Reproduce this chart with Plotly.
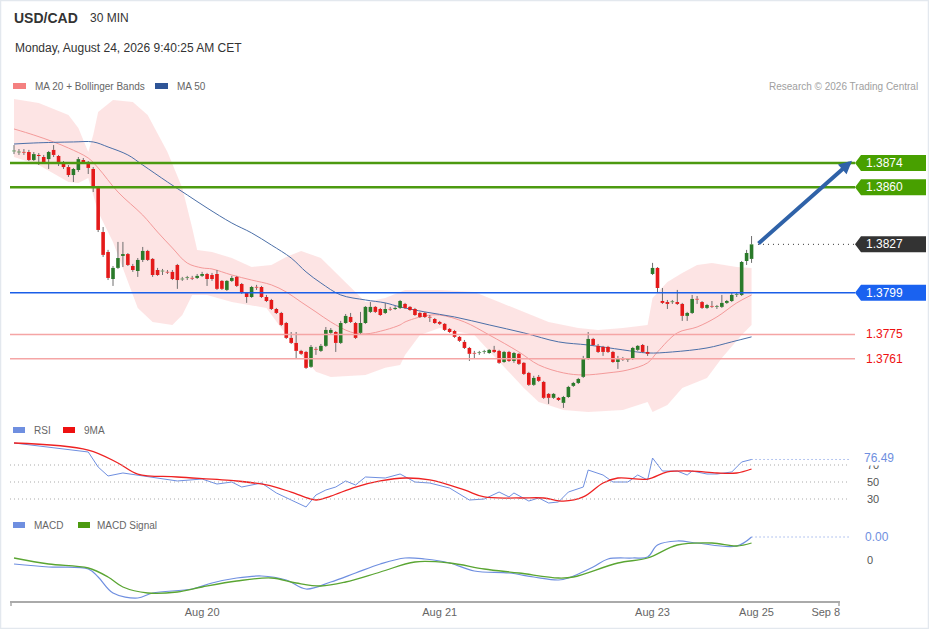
import plotly.graph_objects as go

# ---------------- data ----------------
opens = [1.38809,1.38803,1.38803,1.38803,1.38757,1.38786,1.38774,1.38762,1.38815,1.38780,
         1.38739,1.38716,1.38670,1.38699,1.38757,1.38739,1.38705,1.38595,1.38341,1.38226,
         1.38070,1.38134,1.38203,1.38214,1.38145,1.38116,1.38180,1.38232,1.38186,1.38122,
         1.38116,1.38111,1.38111,1.38151,1.38070,1.38076,1.38076,1.38076,1.38088,1.38099,
         1.38093,1.38099,1.38059,1.38007,1.38059,1.38082,1.38041,1.37990,1.37966,1.38024,
         1.38024,1.37966,1.37949,1.37897,1.37874,1.37816,1.37730,1.37701,1.37655,1.37649,
         1.37563,1.37666,1.37655,1.37684,1.37759,1.37764,1.37701,1.37816,1.37851,1.37816,
         1.37759,1.37816,1.37880,1.37909,1.37897,1.37874,1.37897,1.37897,1.37903,1.37926,
         1.37909,1.37897,1.37874,1.37874,1.37851,1.37839,1.37822,1.37811,1.37782,1.37770,
         1.37736,1.37707,1.37672,1.37643,1.37643,1.37649,1.37643,1.37661,1.37655,1.37591,
         1.37649,1.37597,1.37638,1.37586,1.37528,1.37459,1.37505,1.37476,1.37407,1.37384,
         1.37384,1.37355,1.37389,1.37453,1.37470,1.37505,1.37609,1.37724,1.37684,1.37678,
         1.37678,1.37649,1.37591,1.37609,1.37603,1.37609,1.37661,1.37689,1.37649,1.38099,
         1.38134,1.37943,1.37937,1.37937,1.37937,1.37926,1.37857,1.37874,1.37955,1.37937,
         1.37903,1.37914,1.37909,1.37909,1.37932,1.37943,1.37978,1.37978,1.38174,1.38186]
highs = [1.38843,1.38820,1.38820,1.38815,1.38803,1.38797,1.38786,1.38809,1.38843,1.38786,
         1.38751,1.38728,1.38711,1.38774,1.38768,1.38751,1.38716,1.38607,1.38370,1.38238,
         1.38145,1.38284,1.38284,1.38220,1.38157,1.38191,1.38255,1.38238,1.38191,1.38134,
         1.38128,1.38122,1.38122,1.38157,1.38082,1.38088,1.38088,1.38099,1.38111,1.38105,
         1.38105,1.38122,1.38064,1.38064,1.38088,1.38088,1.38047,1.37995,1.38030,1.38036,
         1.38030,1.37978,1.37955,1.37903,1.37880,1.37822,1.37764,1.37764,1.37661,1.37655,
         1.37689,1.37678,1.37695,1.37793,1.37787,1.37770,1.37828,1.37868,1.37874,1.37822,
         1.37880,1.37914,1.37937,1.37914,1.37903,1.37932,1.37909,1.37914,1.37949,1.37932,
         1.37914,1.37903,1.37880,1.37880,1.37862,1.37845,1.37828,1.37816,1.37787,1.37776,
         1.37741,1.37718,1.37678,1.37655,1.37655,1.37661,1.37666,1.37684,1.37661,1.37655,
         1.37655,1.37649,1.37643,1.37591,1.37534,1.37511,1.37516,1.37482,1.37412,1.37412,
         1.37389,1.37395,1.37453,1.37476,1.37499,1.37626,1.37764,1.37730,1.37695,1.37684,
         1.37684,1.37655,1.37626,1.37620,1.37614,1.37678,1.37689,1.37695,1.37684,1.38163,
         1.38139,1.38018,1.37949,1.37949,1.38007,1.37932,1.37880,1.37978,1.37972,1.37943,
         1.37926,1.37943,1.37920,1.37978,1.37949,1.37995,1.37990,1.38174,1.38238,1.38318]
lows = [1.38791,1.38786,1.38786,1.38751,1.38751,1.38728,1.38739,1.38705,1.38774,1.38722,
        1.38705,1.38659,1.38630,1.38688,1.38734,1.38676,1.38572,1.38341,1.38197,1.38064,
        1.38030,1.38128,1.38139,1.38145,1.38111,1.38082,1.38168,1.38174,1.38082,1.38088,
        1.38093,1.38099,1.38064,1.38013,1.38059,1.38064,1.38064,1.38070,1.38082,1.38030,
        1.38059,1.38007,1.38007,1.38001,1.38053,1.38024,1.37984,1.37932,1.37961,1.38007,
        1.37961,1.37937,1.37891,1.37868,1.37799,1.37724,1.37695,1.37614,1.37632,1.37551,
        1.37557,1.37632,1.37649,1.37678,1.37753,1.37649,1.37695,1.37811,1.37816,1.37724,
        1.37753,1.37811,1.37874,1.37874,1.37857,1.37868,1.37886,1.37891,1.37897,1.37897,
        1.37886,1.37857,1.37845,1.37845,1.37822,1.37811,1.37805,1.37770,1.37759,1.37730,
        1.37707,1.37666,1.37597,1.37609,1.37632,1.37638,1.37638,1.37643,1.37580,1.37586,
        1.37591,1.37586,1.37574,1.37516,1.37453,1.37453,1.37476,1.37378,1.37349,1.37378,
        1.37366,1.37326,1.37384,1.37447,1.37464,1.37499,1.37603,1.37684,1.37643,1.37626,
        1.37643,1.37586,1.37551,1.37597,1.37591,1.37603,1.37655,1.37643,1.37626,1.38093,
        1.37990,1.37926,1.37897,1.37926,1.37920,1.37828,1.37828,1.37868,1.37926,1.37897,
        1.37897,1.37903,1.37897,1.37903,1.37926,1.37937,1.37966,1.37972,1.38151,1.38163]
closes = [1.38809,1.38803,1.38800,1.38757,1.38791,1.38780,1.38745,1.38803,1.38786,1.38734,
          1.38716,1.38670,1.38705,1.38762,1.38745,1.38711,1.38601,1.38353,1.38209,1.38076,
          1.38134,1.38191,1.38214,1.38151,1.38122,1.38180,1.38232,1.38180,1.38093,1.38093,
          1.38116,1.38108,1.38070,1.38064,1.38070,1.38079,1.38073,1.38088,1.38099,1.38070,
          1.38070,1.38013,1.38013,1.38059,1.38076,1.38030,1.37990,1.37966,1.38024,1.38021,
          1.37966,1.37943,1.37897,1.37874,1.37805,1.37730,1.37701,1.37655,1.37638,1.37557,
          1.37678,1.37663,1.37684,1.37776,1.37776,1.37701,1.37816,1.37857,1.37822,1.37730,
          1.37816,1.37909,1.37909,1.37880,1.37862,1.37897,1.37894,1.37903,1.37943,1.37903,
          1.37891,1.37862,1.37851,1.37851,1.37848,1.37816,1.37811,1.37776,1.37764,1.37736,
          1.37713,1.37672,1.37638,1.37640,1.37646,1.37652,1.37661,1.37649,1.37586,1.37649,
          1.37597,1.37643,1.37580,1.37522,1.37459,1.37499,1.37482,1.37384,1.37384,1.37407,
          1.37372,1.37389,1.37447,1.37470,1.37493,1.37614,1.37724,1.37689,1.37649,1.37649,
          1.37649,1.37591,1.37614,1.37606,1.37606,1.37672,1.37684,1.37649,1.37638,1.38134,
          1.38018,1.37932,1.37926,1.37940,1.37926,1.37857,1.37874,1.37955,1.37952,1.37903,
          1.37920,1.37911,1.37912,1.37932,1.37943,1.37978,1.37981,1.38168,1.38220,1.38270]

bb_up_idx = [0,5,11,13,15,16,17,20,24,27,31,34,36,37,40,44,48,52,55,58,62,64,68,71,75,78,79,86,93,98,
             103,108,114,118,123,128,129,132,135,138,141,146,149]
bb_up = [1.39109,1.39086,1.39016,1.38941,1.38803,1.38901,1.39034,1.39103,1.39091,1.39016,
         1.38803,1.38595,1.38364,1.38238,1.38226,1.38191,1.38139,1.38151,1.38197,1.38232,
         1.38191,1.38134,1.38018,1.37937,1.37960,1.37995,1.38007,1.38007,1.37995,1.37937,
         1.37880,1.37822,1.37787,1.37776,1.37787,1.37805,1.37961,1.38053,1.38105,1.38151,
         1.38162,1.38139,1.38134]
bb_lo_idx = [0,5,11,13,15,17,20,23,25,28,32,34,36,39,44,51,54,58,61,64,71,75,78,79,82,86,93,98,
             103,106,111,116,123,128,129,132,135,140,143,147,149]
bb_lo = [1.38774,1.38728,1.38630,1.38624,1.38653,1.38457,1.38284,1.38053,1.37903,1.37822,
         1.37805,1.37862,1.37978,1.37978,1.37937,1.37903,1.37787,1.37632,1.37534,1.37505,
         1.37516,1.37557,1.37574,1.37632,1.37747,1.37787,1.37747,1.37591,1.37441,1.37360,
         1.37314,1.37303,1.37314,1.37360,1.37303,1.37343,1.37441,1.37499,1.37614,1.37747,
         1.37805]
ma20_idx = [0,4,8,11,15,17,21,26,29,32,35,38,40,44,48,52,55,58,61,64,68,71,75,78,79,83,86,91,96,
            102,106,111,115,120,124,128,130,134,138,142,146,149]
ma20 = [1.38936,1.38901,1.38861,1.38826,1.38768,1.38711,1.38572,1.38439,1.38341,1.38249,
        1.38162,1.38134,1.38128,1.38093,1.38064,1.38036,1.37995,1.37937,1.37880,1.37822,
        1.37764,1.37753,1.37776,1.37805,1.37822,1.37857,1.37862,1.37822,1.37747,1.37649,
        1.37574,1.37528,1.37516,1.37528,1.37545,1.37586,1.37649,1.37759,1.37793,1.37851,
        1.37932,1.37978]
ma50_idx = [0,4,12,16,19,23,26,31,35,39,44,48,52,56,59,62,66,71,75,78,83,89,96,103,110,116,123,
            128,133,140,145,149]
ma50 = [1.38849,1.38855,1.38861,1.38861,1.38832,1.38786,1.38728,1.38630,1.38555,1.38480,
        1.38393,1.38336,1.38266,1.38191,1.38111,1.38047,1.37978,1.37949,1.37932,1.37909,
        1.37880,1.37851,1.37805,1.37759,1.37707,1.37689,1.37661,1.37643,1.37649,1.37672,
        1.37707,1.37736]

rsi_idx = [0,9,15,17,19,22,26,28,33,38,41,44,46,50,53,56,59,61,63,65,67,69,71,75,78,81,84,88,92,95,
           98,100,101,104,106,108,110,112,115,116,119,121,124,126,128,129,131,134,136,137,140,142,
           145,147,149]
rsi = [95.9,90.0,85.3,67.6,57.1,60.6,57.1,54.7,51.2,53.5,47.6,50.0,44.1,48.8,37.1,28.8,20.6,34.7,
       40.6,44.1,51.2,46.5,55.9,54.7,59.4,50.0,48.8,42.9,28.8,30.0,38.2,32.4,37.1,27.6,31.2,25.3,
       26.5,38.2,44.1,64.1,58.2,50.0,50.0,58.2,52.4,78.2,62.9,62.9,58.2,62.9,59.4,59.4,61.8,73.5,
       76.49]
rsi_ma_idx = [0,15,21,25,33,45,51,56,61,64,69,74,79,84,91,95,102,107,111,115,119,122,128,132,137,
              142,146,149]
rsi_ma = [95.9,87.6,72.4,59.4,55.9,51.2,46.5,38.2,28.8,33.5,44.1,51.2,54.7,52.4,40.6,32.4,31.2,
          31.2,27.6,32.4,48.8,54.7,53.5,61.8,62.9,60.6,60.6,65.3]

macd_idx = [0,7,15,17,20,25,28,36,40,45,50,55,59,64,69,74,79,83,88,93,100,105,110,112,117,120,125,
            128,130,134,138,146,149]
macd = [-0.00008,-0.00014,-0.00018,-0.00034,-0.00066,-0.00076,-0.00066,-0.00058,-0.00046,-0.00036,
        -0.00032,-0.00040,-0.00058,-0.00044,-0.00026,-0.00008,0.00004,0.00002,-0.00006,-0.00022,
        -0.00026,-0.00034,-0.00040,-0.00036,-0.00014,0.00002,0.00004,0.00006,0.00030,0.00038,
        0.00034,0.00028,0.00046]
sig_idx = [0,7,15,19,22,27,33,38,45,52,57,62,67,74,81,88,95,102,110,113,122,128,134,141,146,149]
sig = [0.00004,-0.00008,-0.00016,-0.00034,-0.00054,-0.00066,-0.00064,-0.00054,-0.00042,-0.00036,
       -0.00046,-0.00052,-0.00044,-0.00024,-0.00004,-0.00006,-0.00018,-0.00026,-0.00036,-0.00034,
       -0.00006,0.00004,0.00030,0.00034,0.00028,0.00034]

tick_vals = [38, 86, 129, 150, 164]
tick_text = ["Aug 20", "Aug 21", "Aug 23", "Aug 25", "Sep 8"]

res2, res1 = 1.3874, 1.3860
last_price = 1.3827
pivot = 1.3799
sup1, sup2 = 1.3775, 1.3761
rsi_levels = [70, 50, 30]
rsi_last = 76.49

# ---------------- layout helpers ----------------
W, H = 929, 629
PL, PR, PT, PB = 10, 840, 95, 601
XR = [-0.81, 166.87]
FONT = "Liberation Sans, Arial, sans-serif"


def px(x):
    return (x - PL) / (PR - PL)


def py(y):
    return (PB - y) / (PB - PT)


def xi(i):
    return (i - XR[0]) / (XR[1] - XR[0])


n = len(closes)
idx = list(range(n))
GREEN, RED = "#2a7a2a", "#e41a1a"

fig = go.Figure()

# Bollinger band
fig.add_trace(go.Scatter(x=bb_up_idx, y=bb_up, mode="lines", line=dict(width=0, color="rgba(0,0,0,0)"),
                         hoverinfo="skip"))
fig.add_trace(go.Scatter(x=bb_lo_idx, y=bb_lo, mode="lines", line=dict(width=0, color="rgba(0,0,0,0)"),
                         fill="tonexty", fillcolor="rgba(252,206,206,0.55)", hoverinfo="skip"))
fig.add_trace(go.Scatter(x=ma20_idx, y=ma20, mode="lines", line=dict(color="#f49a9a", width=1, shape="spline"),
                         hoverinfo="skip"))
fig.add_trace(go.Scatter(x=ma50_idx, y=ma50, mode="lines", line=dict(color="#4b6fa8", width=1, shape="spline"),
                         hoverinfo="skip"))

# candles: wicks + bodies
wx, wy = [], []
bodies = {GREEN: ([], []), RED: ([], [])}
for i in idx:
    o, c = opens[i], closes[i]
    lo_b, hi_b = min(o, c), max(o, c)
    if hi_b - lo_b < 0.00004:
        m = (o + c) / 2
        lo_b, hi_b = m - 0.00002, m + 0.00002
    wx += [i, i, None, i, i, None]
    wy += [highs[i], hi_b, None, lo_b, lows[i], None]
    col = GREEN if c >= o else RED
    bodies[col][0].extend([i, i, None])
    bodies[col][1].extend([lo_b, hi_b, None])
fig.add_trace(go.Scatter(x=wx, y=wy, mode="lines", line=dict(color="#6e6e6e", width=1), hoverinfo="skip"))
for col, (bx, by) in bodies.items():
    fig.add_trace(go.Scatter(x=bx, y=by, mode="lines", line=dict(color=col, width=3.6), hoverinfo="skip"))

# RSI
fig.add_trace(go.Scatter(x=rsi_idx, y=rsi, yaxis="y2", mode="lines", line=dict(color="#6f8fe0", width=1),
                         hoverinfo="skip"))
fig.add_trace(go.Scatter(x=rsi_ma_idx, y=rsi_ma, yaxis="y2", mode="lines",
                         line=dict(color="#ee2222", width=1.3, shape="spline"), hoverinfo="skip"))
# MACD
fig.add_trace(go.Scatter(x=macd_idx, y=macd, yaxis="y3", mode="lines",
                         line=dict(color="#6f8fe0", width=1.2, shape="spline"), hoverinfo="skip"))
fig.add_trace(go.Scatter(x=sig_idx, y=sig, yaxis="y3", mode="lines",
                         line=dict(color="#5aa532", width=1.3, shape="spline"), hoverinfo="skip"))

shapes, ann = [], []

def hline(v, color, width, yref="y", dash="solid", x0=0, x1=None):
    shapes.append(dict(type="line", xref="paper", yref=yref, x0=x0, x1=px(855) if x1 is None else x1,
                       y0=v, y1=v, line=dict(color=color, width=width, dash=dash)))

def tag(v, color, text):
    h = 0.000462
    a, b, r = px(855), px(861), px(926)
    shapes.append(dict(type="path", xref="paper", yref="y",
                       path=f"M {a},{v} L {b},{v+h} L {r},{v+h} L {r},{v-h} L {b},{v-h} Z",
                       fillcolor=color, line=dict(width=0)))
    ann.append(dict(xref="paper", yref="y", x=px(864), y=v, text=text, showarrow=False, xanchor="left",
                    yanchor="middle", font=dict(color="white", size=12, family=FONT)))

def txt(x, y, text, size=10, color="#666", anchor="left", bold=False):
    ann.append(dict(xref="paper", yref="paper", x=px(x), y=py(y), text=f"<b>{text}</b>" if bold else text,
                    showarrow=False, xanchor=anchor, yanchor="middle",
                    font=dict(color=color, size=size, family=FONT)))

def swatch(x, y, color, w=13):
    shapes.append(dict(type="rect", xref="paper", yref="paper", x0=px(x), x1=px(x + w),
                       y0=py(y + 3), y1=py(y - 3), fillcolor=color, line=dict(width=0)))

hline(sup1, "#f5a5a5", 1.5)
hline(sup2, "#f5a5a5", 1.5)
hline(pivot, "#1a5ee8", 1.5)
hline(res1, "#4c9a10", 2.5)
hline(res2, "#4c9a10", 2.5)
shapes.append(dict(type="line", xref="paper", yref="y", x0=xi(n + 0.3), x1=px(855), y0=last_price,
                   y1=last_price, line=dict(color="#333", width=1, dash="1px,4px")))
tag(res2, "#48a000", f"{res2:.4f}")
tag(res1, "#48a000", f"{res1:.4f}")
tag(last_price, "#333333", f"{last_price:.4f}")
tag(pivot, "#1a62f0", f"{pivot:.4f}")
for v in (sup1, sup2):
    ann.append(dict(xref="paper", yref="y", x=px(864), y=v, text=f"{v:.4f}", showarrow=False,
                    xanchor="left", yanchor="middle", font=dict(color="#ee1111", size=12, family=FONT)))

# arrow
ann.append(dict(xref="paper", yref="y", x=px(852), y=res2 + 0.00012, text="", showarrow=True,
                axref="pixel", ayref="pixel", ax=-95, ay=84, arrowhead=2, arrowsize=0.65,
                arrowwidth=4, arrowcolor="#2f62a8", standoff=0))

# RSI levels
for lv in rsi_levels:
    hline(lv, "#aaaaaa", 1, yref="y2", dash="1px,3px", x1=px(850))
    ann.append(dict(xref="paper", yref="y2", x=px(865), y=lv, text=str(lv), showarrow=False,
                    xanchor="left", yanchor="middle", font=dict(color="#555", size=11, family=FONT)))
shapes.append(dict(type="line", xref="paper", yref="y2", x0=xi(rsi_idx[-1]), x1=px(850), y0=rsi_last,
                   y1=rsi_last, line=dict(color="#6f8fe0", width=1, dash="1px,3px")))
ann.append(dict(xref="paper", yref="y2", x=px(863), y=rsi_last + 1.5, text=f"{rsi_last:.2f}", showarrow=False,
                xanchor="left", yanchor="middle", bgcolor="white", borderpad=0,
                font=dict(color="#6f8fe0", size=12, family=FONT)))
# MACD labels
shapes.append(dict(type="line", xref="paper", yref="y3", x0=xi(macd_idx[-1]), x1=px(850), y0=macd[-1],
                   y1=macd[-1], line=dict(color="#6f8fe0", width=1, dash="1px,3px")))
ann.append(dict(xref="paper", yref="y3", x=px(863), y=macd[-1], text=f"{macd[-1]:.2f}", showarrow=False,
                xanchor="left", yanchor="middle", font=dict(color="#6f8fe0", size=12, family=FONT)))
ann.append(dict(xref="paper", yref="y3", x=px(865), y=0, text="0", showarrow=False,
                xanchor="left", yanchor="middle", font=dict(color="#555", size=11, family=FONT)))

# header and legends
txt(12, 18, "USD/CAD", size=14, color="#333", bold=True)
txt(88, 18, "30 MIN", size=12, color="#333")
txt(13, 48, "Monday, August 24, 2026 9:40:25 AM CET", size=12, color="#333")
swatch(13, 86, "#f48080")
txt(33, 86, "MA 20 + Bollinger Bands")
swatch(155, 86, "#2f5597")
txt(175, 86, "MA 50")
txt(920, 86, "Research © 2026 Trading Central", color="#a0a0a0", anchor="right")
swatch(13, 430, "#6f8fe0", 12)
txt(32, 430, "RSI")
swatch(63, 430, "#ee1111", 12)
txt(82, 430, "9MA")
swatch(13, 525, "#6f8fe0", 12)
txt(32, 525, "MACD")
swatch(78, 525, "#4c9a10", 12)
txt(95, 525, "MACD Signal")

# axis end ticks and frame
for xe in (PL + 1, PR - 1):
    shapes.append(dict(type="line", xref="paper", yref="paper", x0=px(xe), x1=px(xe), y0=py(601), y1=py(606),
                       line=dict(color="#aaaaaa", width=1.5)))
shapes.append(dict(type="rect", xref="paper", yref="paper", x0=px(0.5), x1=px(928.5), y0=py(628.5),
                   y1=py(0.5), line=dict(color="#e3e8ee", width=1.5)))

fig.update_layout(
    width=W, height=H, margin=dict(l=PL, r=W - PR, t=PT, b=H - PB),
    paper_bgcolor="white", plot_bgcolor="white", showlegend=False,
    font=dict(family=FONT),
    xaxis=dict(range=XR, anchor="y3", showgrid=False, zeroline=False, showline=True, linecolor="#aaaaaa",
               linewidth=2, tickvals=tick_vals, ticktext=tick_text, ticks="",
               tickfont=dict(size=11, color="#666")),
    yaxis=dict(domain=[py(415), 1], range=[1.37285, 1.39132], showgrid=False, zeroline=False,
               showticklabels=False),
    yaxis2=dict(domain=[py(512), py(440)], range=[14.71, 99.41], showgrid=False, zeroline=False,
                showticklabels=False, anchor="x"),
    yaxis3=dict(domain=[0, py(528)], range=[-0.00082, 0.00064], showgrid=False, zeroline=False,
                showticklabels=False, anchor="x"),
    shapes=shapes, annotations=ann,
)

fig.write_html("out.html", config={"displayModeBar": False},
               post_script="document.body.style.margin='0px';document.body.style.overflow='hidden';")
